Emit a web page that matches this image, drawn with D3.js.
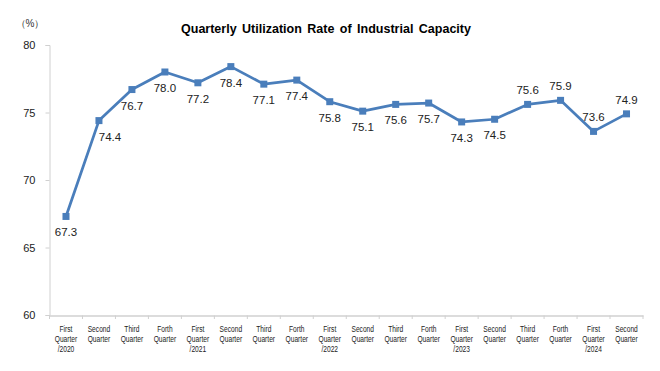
<!doctype html>
<html>
<head>
<meta charset="utf-8">
<title>Quarterly Utilization Rate of Industrial Capacity</title>
<style>
    body { margin: 0; background: #fff; }
    svg text { font-family: "Liberation Sans", Arial, sans-serif; }
</style>
</head>
<body>
<svg id="chart" width="660" height="371"></svg>

<script src="https://d3js.org/d3.v7.min.js"></script>
<script>

    // --- data ---
    var quarters = ["First", "Second", "Third", "Forth", "First", "Second", "Third", "Forth", "First",
                    "Second", "Third", "Forth", "First", "Second", "Third", "Forth", "First", "Second"];
    var years = ["/2020", "", "", "", "/2021", "", "", "", "/2022",
                 "", "", "", "/2023", "", "", "", "/2024", ""];
    var rates = [67.3, 74.4, 76.7, 78.0, 77.2, 78.4, 77.1, 77.4, 75.8,
                 75.1, 75.6, 75.7, 74.3, 74.5, 75.6, 75.9, 73.6, 74.9];
    var yTicks = [60, 65, 70, 75, 80];
    var labelsAbove = [14, 15, 16, 17];

    var svg = d3.select('#chart');

    var x = d3.scaleBand().domain(d3.range(rates.length)).range([49.5, 643]);
    var y = d3.scaleLinear().domain([60, 80]).range([315, 45]);

    // title and unit
    svg.append('text')
        .attr('x', 326).attr('y', 33)
        .attr('text-anchor', 'middle')
        .attr('font-size', 12.5).attr('font-weight', 'bold')
        .attr('word-spacing', 2)
        .attr('fill', '#000')
        .text('Quarterly Utilization Rate of Industrial Capacity');

    svg.append('text')
        .attr('x', 30).attr('y', 27)
        .attr('text-anchor', 'middle')
        .attr('font-size', 10).attr('fill', '#333')
        .text('（%）');

    // y axis
    var yAxis = svg.append('g')
        .attr('transform', 'translate(49.5,0)')
        .call(d3.axisLeft(y).tickValues(yTicks).tickSize(4).tickPadding(10));
    yAxis.select('.domain').attr('stroke', '#d0d0d0');
    yAxis.selectAll('.tick line').attr('stroke', '#d0d0d0');
    yAxis.selectAll('.tick text').attr('font-size', 11).attr('fill', '#222')
        .style('font-family', '"Liberation Sans", Arial, sans-serif');

    // x axis
    var xAxis = svg.append('g')
        .attr('transform', 'translate(0,315.5)')
        .call(d3.axisBottom(x).tickSizeOuter(0).tickSize(0).tickFormat(''));
    xAxis.select('.domain').attr('stroke', '#d0d0d0').attr('stroke-width', 1.5);
    xAxis.selectAll('.tick').remove();

    // tick marks between categories
    svg.append('g').selectAll('line')
        .data(d3.range(rates.length + 1))
        .join('line')
        .attr('x1', function(d){ return x.range()[0] + d * x.step(); })
        .attr('x2', function(d){ return x.range()[0] + d * x.step(); })
        .attr('y1', 315.5).attr('y2', 319)
        .attr('stroke', '#d0d0d0');

    // category labels (squeezed to look like a narrow face)
    var cat = svg.append('g').selectAll('text')
        .data(quarters)
        .join('text')
        .attr('transform', function(d, i){ return 'translate(' + (x(i) + x.bandwidth() / 2) + ',332) scale(0.7,1)'; })
        .attr('text-anchor', 'middle')
        .attr('font-size', 9.5).attr('fill', '#222');
    cat.append('tspan').attr('x', 0).attr('y', 0).text(function(d){ return d; });
    cat.append('tspan').attr('x', 0).attr('y', 10).text('Quarter');
    cat.append('tspan').attr('x', 0).attr('y', 20).text(function(d, i){ return years[i]; });

    // line
    var line = d3.line()
        .x(function(d, i){ return x(i) + x.bandwidth() / 2; })
        .y(function(d){ return y(d); });

    svg.append('path')
        .datum(rates)
        .attr('d', line)
        .attr('fill', 'none')
        .attr('stroke', '#4a7ebb')
        .attr('stroke-width', 2.75)
        .attr('stroke-linejoin', 'round');

    svg.append('g').selectAll('rect')
        .data(rates)
        .join('rect')
        .attr('x', function(d, i){ return x(i) + x.bandwidth() / 2 - 3.5; })
        .attr('y', function(d){ return y(d) - 3.5; })
        .attr('width', 7).attr('height', 7)
        .attr('fill', '#4a7ebb');

    // data labels
    svg.append('g').selectAll('text')
        .data(rates)
        .join('text')
        .attr('x', function(d, i){ return x(i) + x.bandwidth() / 2 + (i === 1 ? 11 : 0); })
        .attr('y', function(d, i){ return labelsAbove.indexOf(i) >= 0 ? y(d) - 10 : y(d) + 20; })
        .attr('text-anchor', 'middle')
        .attr('font-size', 11.5).attr('fill', '#222')
        .text(function(d){ return d.toFixed(1); });

</script>
</body>
</html>
